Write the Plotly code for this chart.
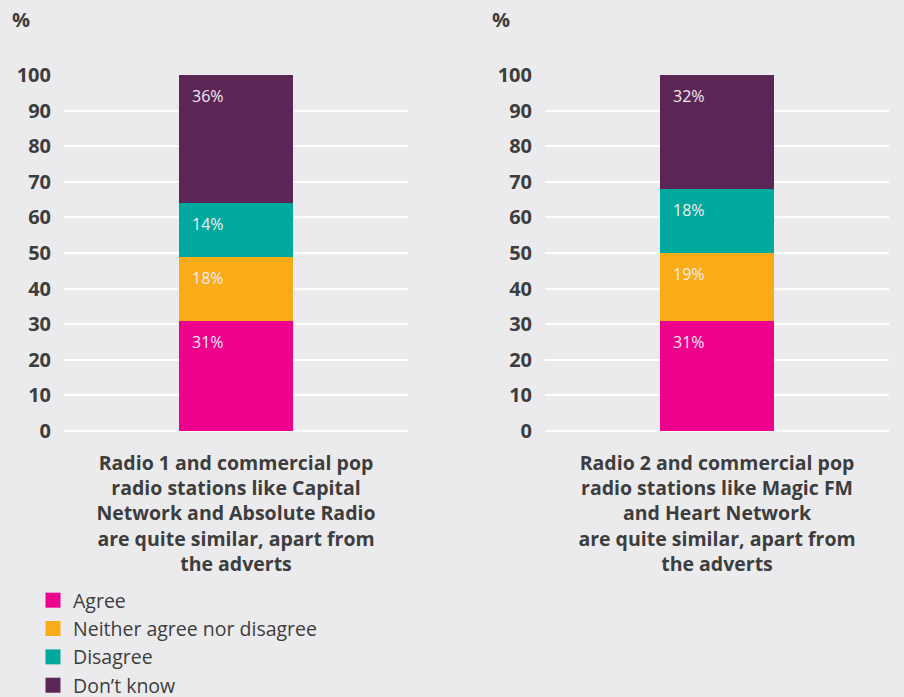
import plotly.graph_objects as go

series = ["Agree", "Neither agree nor disagree", "Disagree", "Don\u2019t know"]
colors = ["#EC008C", "#FAAB18", "#00A99D", "#5B2656"]

cat1 = ["Radio 1 and commercial pop<br>radio stations like Capital<br>Network and Absolute Radio<br>are quite similar, apart from<br>the adverts"]
cat2 = ["Radio 2 and commercial pop<br>radio stations like Magic FM<br>and Heart Network<br>are quite similar, apart from<br>the adverts"]

# bar heights as drawn, and the printed labels
vals1 = [31, 18, 15, 36]
vals2 = [31, 19, 18, 32]
labels1 = ["31%", "18%", "14%", "36%"]
labels2 = ["31%", "19%", "18%", "32%"]

yticks = [0, 10, 20, 30, 40, 50, 60, 70, 80, 90, 100]

FONT = "Open Sans"
TXT = "#3d3d3d"
BG = "#EBEBEE"

fig = go.Figure()
for i, s in enumerate(series):
    fig.add_trace(go.Bar(x=cat1, y=[vals1[i]], name=s, marker=dict(color=colors[i], line=dict(width=0)),
                         xaxis="x", yaxis="y", width=0.33, showlegend=False, hoverinfo="skip"))
    fig.add_trace(go.Bar(x=cat2, y=[vals2[i]], name=s, marker=dict(color=colors[i], line=dict(width=0)),
                         xaxis="x2", yaxis="y2", width=0.33, showlegend=False, hoverinfo="skip"))
# legend entries (square swatches)
for i, s in enumerate(series):
    fig.add_trace(go.Scatter(x=[None], y=[None], mode="markers", name=s,
                             marker=dict(symbol="square", size=15, color=colors[i]),
                             xaxis="x", yaxis="y", showlegend=True, hoverinfo="skip"))

annotations = []
for cats, vals, labs, xref, yref in [(cat1, vals1, labels1, "x", "y"), (cat2, vals2, labels2, "x2", "y2")]:
    cum = 0
    for v, lab in zip(vals, labs):
        cum += v
        annotations.append(dict(x=cats[0], y=cum, xref=xref, yref=yref, text=lab, showarrow=False,
                                xanchor="left", yanchor="top", xshift=-46, yshift=-8,
                                font=dict(family=FONT, size=16, color="#F4ECF2")))

for xp in [10, 490]:
    annotations.append(dict(x=(xp - 64) / 825, y=(431 - 20) / 356, xref="paper", yref="paper",
                            text="<b>%</b>", showarrow=False, xanchor="left", yanchor="middle",
                            font=dict(family=FONT, size=20, color=TXT)))

yax = dict(range=[0, 100], tickvals=yticks, showgrid=True, gridcolor="white", gridwidth=2,
           zeroline=True, zerolinecolor="white", zerolinewidth=2, showline=False,
           ticks="", ticklabelstandoff=12, fixedrange=True,
           tickfont=dict(family=FONT, size=20, color=TXT, weight="bold"))
xax = dict(showgrid=False, showline=False, ticks="", ticklabelstandoff=18, fixedrange=True,
           tickfont=dict(family=FONT, size=19.5, color=TXT, weight="bold"))

fig.update_layout(
    width=904, height=697,
    paper_bgcolor=BG, plot_bgcolor=BG,
    margin=dict(l=64, r=15, t=75, b=266, autoexpand=False),
    barmode="stack",
    font=dict(family=FONT, color=TXT),
    xaxis=dict(domain=[0, 344 / 825], **xax),
    xaxis2=dict(domain=[481 / 825, 1.0], **xax),
    yaxis=dict(anchor="x", **yax),
    yaxis2=dict(anchor="x2", **yax),
    legend=dict(x=(33 - 64) / 825, y=(431 - 581) / 356, xanchor="left", yanchor="top",
                orientation="v", traceorder="normal", bgcolor="rgba(0,0,0,0)",
                itemsizing="trace", font=dict(family=FONT, size=19.5, color=TXT),
                itemwidth=30, tracegroupgap=0),
    annotations=annotations,
    showlegend=True,
)

fig.write_html("out.html", config={"displayModeBar": False},
               post_script="document.body.style.margin='0';document.body.style.background='#EBEBEE';")
